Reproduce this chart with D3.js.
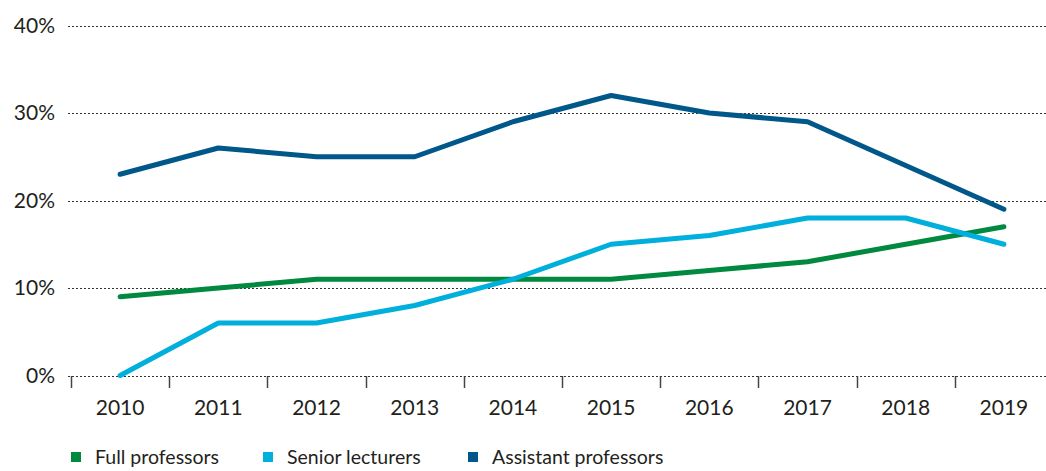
<!DOCTYPE html>
<html>
<head>
<meta charset="utf-8">
<script src="https://cdn.jsdelivr.net/npm/d3@7"></script>
<style>
  html, body { margin: 0; padding: 0; background: #fff; }
  svg { display: block; font-family: Lato, "Open Sans", sans-serif; }
</style>
</head>
<body>
<svg id="chart" width="1046" height="471"></svg>
<script>
// Share of each staff category, per year (%)
const years = ["2010", "2011", "2012", "2013", "2014", "2015", "2016", "2017", "2018", "2019"];
const fullProfessors = [9, 10, 11, 11, 11, 11, 12, 13, 15, 17];
const seniorLecturers = [0, 6, 6, 8, 11, 15, 16, 18, 18, 15];
const assistantProfessors = [23, 26, 25, 25, 29, 32, 30, 29, 24, 19];
const yTicks = [0, 10, 20, 30, 40];

const series = [
  { name: "Full professors", values: fullProfessors, color: "#00893f" },
  { name: "Senior lecturers", values: seniorLecturers, color: "#00afdb" },
  { name: "Assistant professors", values: assistantProfessors, color: "#00578a" }
];

const svg = d3.select("#chart");
const left = 71, step = 98.2;

const x = d3.scaleBand()
  .domain(years)
  .range([left, left + step * years.length])
  .padding(0);

const y = d3.scaleLinear().domain([0, 40]).range([375.5, 25.5]);

// Dotted horizontal gridlines
svg.append("g")
  .selectAll("line")
  .data(yTicks)
  .join("line")
  .attr("x1", 68)
  .attr("x2", 1046)
  .attr("y1", d => Math.round(y(d)) + 0.5)
  .attr("y2", d => Math.round(y(d)) + 0.5)
  .attr("stroke", "#333")
  .attr("stroke-width", 1)
  .attr("stroke-dasharray", "2,2");

// Y labels
svg.append("g")
  .selectAll("text")
  .data(yTicks)
  .join("text")
  .attr("x", 55)
  .attr("y", d => y(d))
  .attr("dy", "0.35em")
  .attr("text-anchor", "end")
  .attr("font-size", 21)
  .attr("fill", "#231f20")
  .text(d => d + "%");

// Year labels under each band
const xAxis = d3.axisBottom(x).tickSize(0).tickPadding(24);
const gx = svg.append("g").attr("transform", "translate(0,376)").call(xAxis);
gx.select(".domain").remove();
gx.selectAll("text")
  .attr("font-size", 21)
  .attr("font-family", "Lato, 'Open Sans', sans-serif")
  .attr("fill", "#231f20");

// Tick marks at band boundaries
svg.append("g")
  .selectAll("line")
  .data(years)
  .join("line")
  .attr("x1", d => Math.round(x(d)) + 0.5)
  .attr("x2", d => Math.round(x(d)) + 0.5)
  .attr("y1", 376)
  .attr("y2", 388)
  .attr("stroke", "#444")
  .attr("stroke-width", 1.5);

// Lines
const line = d3.line()
  .x((d, i) => x(years[i]) + x.bandwidth() / 2)
  .y(d => y(d));

svg.append("g")
  .selectAll("path")
  .data(series)
  .join("path")
  .attr("d", d => line(d.values))
  .attr("fill", "none")
  .attr("stroke", d => d.color)
  .attr("stroke-width", 5)
  .attr("stroke-linejoin", "round")
  .attr("stroke-linecap", "round");

// Legend
const legendX = [71, 263, 468];
const legend = svg.append("g")
  .selectAll("g")
  .data(series)
  .join("g")
  .attr("transform", (d, i) => `translate(${legendX[i]},452)`);
legend.append("rect")
  .attr("width", 10)
  .attr("height", 10)
  .attr("fill", d => d.color);
legend.append("text")
  .attr("x", 24)
  .attr("y", 5)
  .attr("dy", "0.35em")
  .attr("font-size", 19.5)
  .attr("fill", "#231f20")
  .text(d => d.name);
</script>
</body>
</html>
